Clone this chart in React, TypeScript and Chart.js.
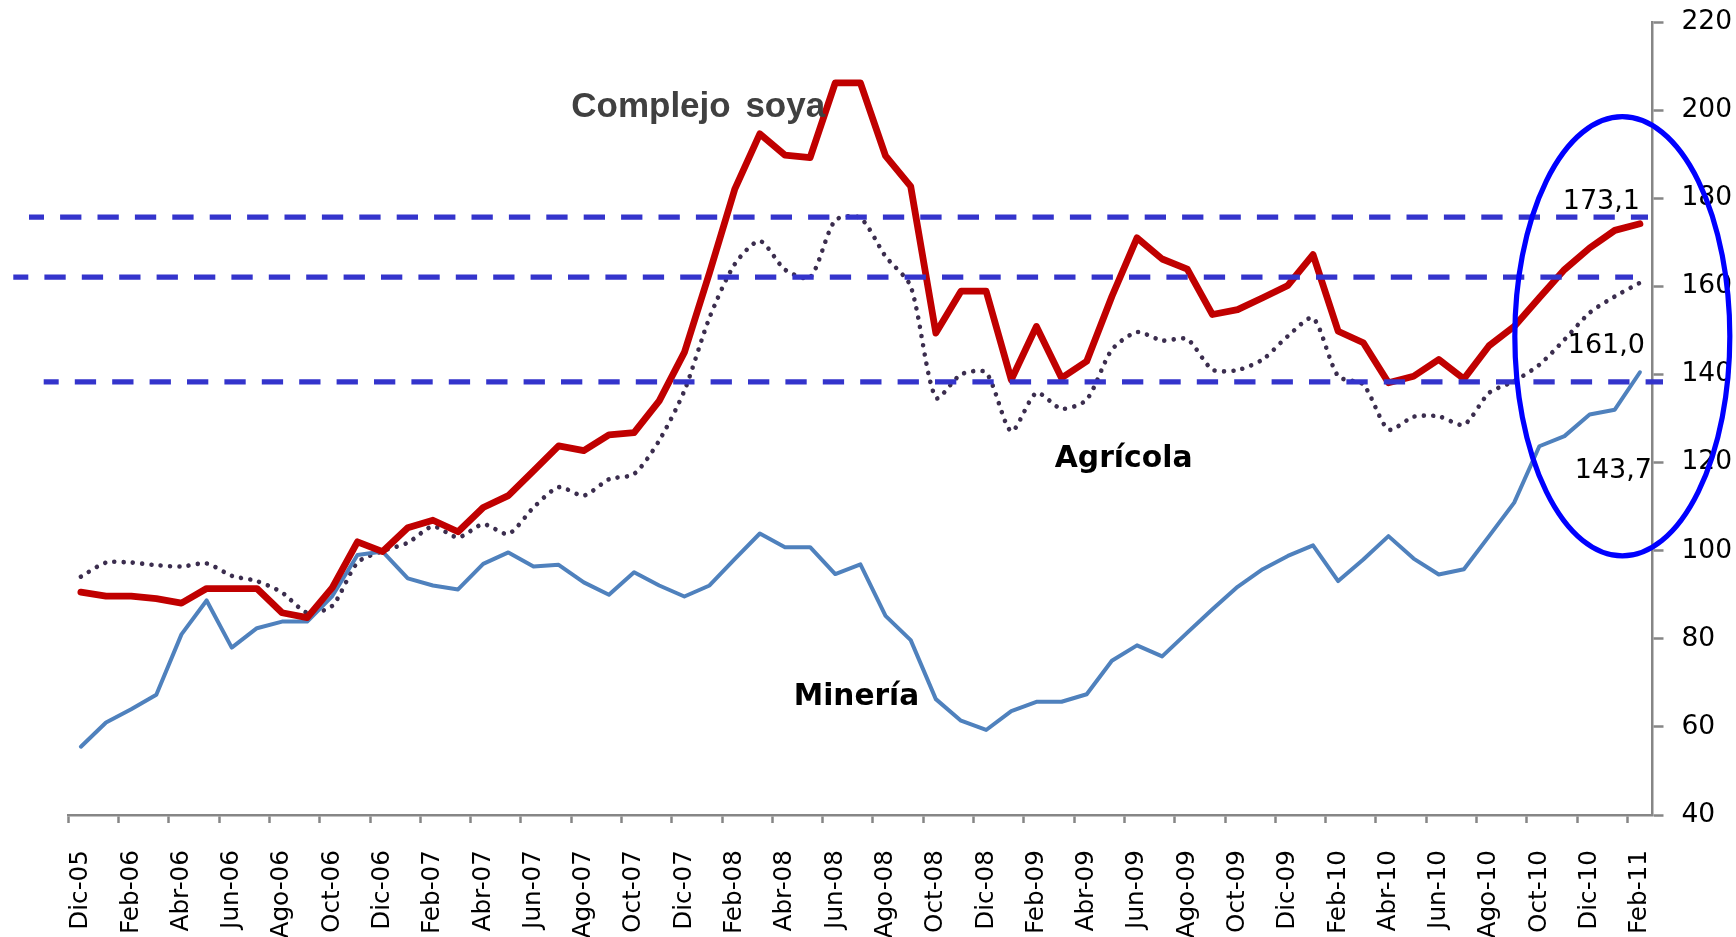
import React, { useEffect, useRef } from 'react';
import { Chart, registerables } from 'chart.js';

Chart.register(...registerables);

const categories = [
  'Dic-05',
  'Ene-06', 'Feb-06', 'Mar-06', 'Abr-06', 'May-06', 'Jun-06', 'Jul-06', 'Ago-06', 'Sep-06', 'Oct-06', 'Nov-06', 'Dic-06',
  'Ene-07', 'Feb-07', 'Mar-07', 'Abr-07', 'May-07', 'Jun-07', 'Jul-07', 'Ago-07', 'Sep-07', 'Oct-07', 'Nov-07', 'Dic-07',
  'Ene-08', 'Feb-08', 'Mar-08', 'Abr-08', 'May-08', 'Jun-08', 'Jul-08', 'Ago-08', 'Sep-08', 'Oct-08', 'Nov-08', 'Dic-08',
  'Ene-09', 'Feb-09', 'Mar-09', 'Abr-09', 'May-09', 'Jun-09', 'Jul-09', 'Ago-09', 'Sep-09', 'Oct-09', 'Nov-09', 'Dic-09',
  'Ene-10', 'Feb-10', 'Mar-10', 'Abr-10', 'May-10', 'Jun-10', 'Jul-10', 'Ago-10', 'Sep-10', 'Oct-10', 'Nov-10', 'Dic-10',
  'Ene-11', 'Feb-11',
];

const complejoSoya = [
  90.6, 89.7, 89.7, 89.1, 88.1, 91.4, 91.4, 91.4, 85.9, 84.8, 91.6, 102.0, 99.8,
  105.2, 106.9, 104.3, 109.8, 112.5, 118.1, 123.8, 122.7, 126.3, 126.8, 134.0, 145.0,
  163.1, 182.0, 194.6, 189.8, 189.2, 206.2, 206.2, 189.6, 182.7, 149.4, 158.9, 158.9,
  138.8, 150.9, 139.2, 143.0, 157.7, 171.0, 166.2, 163.9, 153.6, 154.7, 157.4, 160.2,
  167.2, 149.8, 147.2, 138.1, 139.6, 143.4, 139.0, 146.5, 150.9, 157.4, 163.8, 168.7,
  172.7, 174.2,
];

const agricola = [
  94.1, 97.3, 97.3, 96.7, 96.4, 97.1, 94.3, 93.1, 90.5, 85.9, 87.5, 97.3, 99.9,
  101.8, 105.5, 103.0, 106.0, 103.8, 109.8, 114.4, 112.5, 116.2, 117.4, 125.0, 136.3,
  152.9, 165.0, 170.3, 163.8, 162.0, 175.0, 175.5, 166.8, 160.0, 134.7, 140.0, 140.4,
  127.1, 135.8, 132.2, 134.3, 145.6, 149.6, 147.7, 148.0, 141.1, 141.0, 143.4, 148.7,
  152.8, 139.6, 137.7, 127.5, 130.4, 130.5, 128.6, 135.8, 138.5, 142.2, 147.9, 154.0,
  157.7, 160.8,
];

const mineria = [
  55.5, 61.0, 64.0, 67.3, 81.0, 88.7, 78.0, 82.4, 83.9, 83.9, 89.7, 99.0, 99.8,
  93.7, 92.1, 91.2, 97.0, 99.6, 96.4, 96.8, 92.8, 90.0, 95.1, 92.1, 89.6,
  92.1, 98.1, 103.9, 100.8, 100.8, 94.7, 96.9, 85.2, 79.7, 66.3, 61.4, 59.3,
  63.6, 65.7, 65.7, 67.4, 75.0, 78.5, 76.0, 81.4, 86.7, 91.8, 95.8, 98.8,
  101.2, 93.1, 98.0, 103.3, 98.2, 94.6, 95.8, 103.3, 110.9, 123.7, 126.0, 130.9,
  132.0, 140.5,
];

// horizontal dashed reference lines: value, left px, right px
const refLineValues = [175.7, 162.1, 138.3];
const refLineStarts = [29, 13.3, 43.7];
const refLineEnds = [1648, 1633, 1663];

// end-value labels
const endLabels = ['173,1', '161,0', '143,7'];
const endLabelValues = [179.2, 146.5, 118.2];
const endLabelRight = [1640, 1645, 1652];

// series name annotations
const seriesNames = ['Complejo soya', 'Agrícola', 'Minería'];
const seriesNameIndex = [19.5, 38.73, 28.35];
const seriesNameValue = [198.4, 119.1, 64.9];
const seriesNameColor = ['#404040', '#000000', '#000000'];
const seriesNameFont = [
  'bold 35px "Liberation Sans", Arial, sans-serif',
  'bold 29.8px "DejaVu Sans", sans-serif',
  'bold 29.6px "DejaVu Sans", sans-serif',
];

// highlight ellipse (category index of center, value range)
const ellipseCenterIndex = 61.3;
const ellipseValueTop = 198.5;
const ellipseValueBottom = 98.8;
const ellipseRadiusX = 107.5;

const AXIS = '#868686';
const DASH = '#3434CC';
const FONT = '"DejaVu Sans", sans-serif';

const overlay = {
  id: 'overlay',
  afterDatasetsDraw(chart: any) {
    const { ctx, scales } = chart;
    const x = scales.x;
    const y = scales.y;
    const catW = x.getPixelForValue(1) - x.getPixelForValue(0);
    const toX = (idx: number) => x.getPixelForValue(0) + idx * catW;
    ctx.save();

    // dashed reference lines
    ctx.strokeStyle = DASH;
    ctx.lineWidth = 5.3;
    ctx.lineCap = 'butt';
    ctx.setLineDash([21.3, 16.1]);
    ctx.lineDashOffset = 6.3;
    refLineValues.forEach((v, i) => {
      const py = y.getPixelForValue(v);
      ctx.beginPath();
      ctx.moveTo(refLineStarts[i], py);
      ctx.lineTo(refLineEnds[i], py);
      ctx.stroke();
    });
    ctx.setLineDash([]);

    // ellipse
    const top = y.getPixelForValue(ellipseValueTop);
    const bottom = y.getPixelForValue(ellipseValueBottom);
    ctx.strokeStyle = '#0000FF';
    ctx.lineWidth = 5.2;
    ctx.beginPath();
    ctx.ellipse(toX(ellipseCenterIndex), (top + bottom) / 2, ellipseRadiusX, (bottom - top) / 2, 0, 0, Math.PI * 2);
    ctx.stroke();

    // end labels
    ctx.fillStyle = '#000000';
    ctx.font = '27px ' + FONT;
    ctx.textAlign = 'right';
    ctx.textBaseline = 'middle';
    endLabels.forEach((t, i) => {
      ctx.fillText(t, endLabelRight[i], y.getPixelForValue(endLabelValues[i]));
    });

    // series names
    ctx.textAlign = 'left';
    ctx.textBaseline = 'alphabetic';
    seriesNames.forEach((t, i) => {
      ctx.fillStyle = seriesNameColor[i];
      ctx.font = seriesNameFont[i];
      (ctx as any).wordSpacing = i === 0 ? '5px' : '0px';
      ctx.fillText(t, toX(seriesNameIndex[i]), y.getPixelForValue(seriesNameValue[i]));
    });
    (ctx as any).wordSpacing = '0px';
    ctx.restore();
  },
};

export default function App() {
  const ref = useRef<HTMLCanvasElement>(null);

  useEffect(() => {
    if (!ref.current) return;
    const chart = new Chart(ref.current, {
      type: 'line',
      data: {
        labels: categories,
        datasets: [
          {
            label: 'Complejo soya',
            data: complejoSoya,
            borderColor: '#C00000',
            borderWidth: 6.8,
            borderJoinStyle: 'round',
            borderCapStyle: 'round',
            pointRadius: 0,
            tension: 0,
            fill: false,
          },
          {
            label: 'Minería',
            data: mineria,
            borderColor: '#4F81BD',
            borderWidth: 4,
            borderJoinStyle: 'round',
            borderCapStyle: 'round',
            pointRadius: 0,
            tension: 0,
            fill: false,
          },
          {
            label: 'Agrícola',
            data: agricola,
            borderColor: '#3B2D4E',
            borderWidth: 4.6,
            borderDash: [0.01, 9.3],
            borderCapStyle: 'round',
            borderJoinStyle: 'round',
            pointRadius: 0,
            tension: 0.25,
            fill: false,
          },
        ],
      },
      options: {
        animation: false,
        responsive: false,
        maintainAspectRatio: false,
        devicePixelRatio: 1,
        layout: { padding: { left: 68.3, top: 22, right: 0, bottom: 0 } },
        plugins: {
          legend: { display: false },
          tooltip: { enabled: false },
        },
        scales: {
          x: {
            type: 'category',
            offset: true,
            grid: {
              display: true,
              offset: true,
              drawOnChartArea: false,
              drawTicks: true,
              tickLength: 8,
              tickWidth: 2.5,
              tickColor: (c: any) => (c.index % 2 === 0 ? AXIS : 'rgba(0,0,0,0)'),
            },
            border: { display: true, color: AXIS, width: 2.5 },
            ticks: {
              autoSkip: false,
              maxRotation: 90,
              minRotation: 90,
              padding: 27,
              color: '#000000',
              font: { family: FONT, size: 24.7 },
              callback: (_v: any, i: number) => (i % 2 === 0 ? categories[i] : ''),
            },
            afterFit: (s: any) => {
              s.height = 122;
              s.paddingLeft = 0;
              s.paddingRight = 0;
            },
          },
          y: {
            position: 'right',
            min: 40,
            max: 220,
            grid: {
              drawOnChartArea: false,
              drawTicks: true,
              tickLength: 11,
              tickWidth: 2.5,
              tickColor: AXIS,
            },
            border: { display: true, color: AXIS, width: 2.5 },
            ticks: {
              stepSize: 20,
              padding: 18,
              color: '#000000',
              font: { family: FONT, size: 26.5 },
            },
            afterFit: (s: any) => {
              s.width = 83.5;
              s.paddingTop = 10;
              s.paddingBottom = 10;
            },
          },
        },
      },
      plugins: [overlay],
    } as any);
    return () => chart.destroy();
  }, []);

  return (
    <div style={{ position: 'fixed', left: 0, top: 0, width: 1736, height: 937, background: '#ffffff' }}>
      <canvas ref={ref} width={1736} height={937} style={{ display: 'block' }} />
    </div>
  );
}
